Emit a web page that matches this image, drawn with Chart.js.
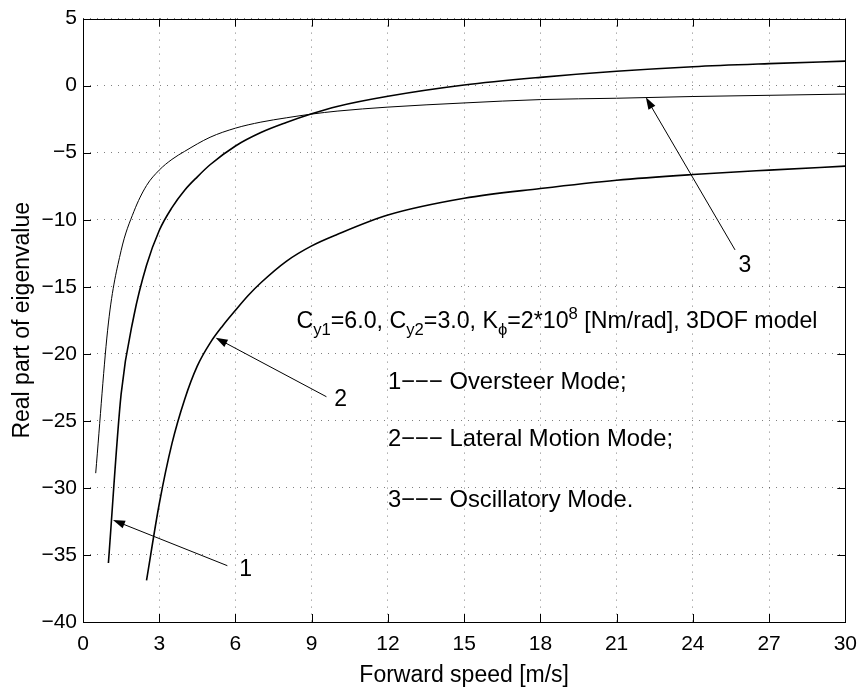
<!DOCTYPE html>
<html>
<head>
<meta charset="utf-8">
<script src="https://cdn.jsdelivr.net/npm/chart.js@4.4.1/dist/chart.umd.min.js"></script>
<style>
  html, body { margin: 0; padding: 0; background: #fff; }
  #wrap { width: 867px; height: 694px; }
</style>
</head>
<body>
<div id="wrap"><canvas id="eigChart" width="867" height="694"></canvas></div>
<script>
// values
const speedMode1 = [1.0, 1.5, 2.0, 2.5, 3.0, 3.5, 4.0, 4.5, 5.0, 6.0, 7.0, 8.0, 9.0, 10, 12, 15, 18, 21, 24, 27, 30];
const realMode1  = [-35.6, -23.0, -17.2, -13.4, -10.8, -9.1, -7.8, -6.8, -5.9, -4.5, -3.5, -2.75, -2.1, -1.55, -0.79, 0.05, 0.62, 1.07, 1.41, 1.64, 1.83];

const speedMode2 = [2.5, 3.0, 3.5, 4.0, 4.5, 5.0, 5.5, 6.0, 6.5, 7.0, 8.0, 9.0, 10, 12, 15, 18, 21, 24, 27, 30];
const realMode2  = [-36.9, -31.2, -26.7, -23.4, -20.9, -19.2, -17.9, -16.75, -15.65, -14.7, -13.1, -11.95, -11.1, -9.65, -8.4, -7.67, -7.05, -6.63, -6.3, -6.0];

const speedMode3 = [0.5, 1.0, 1.5, 2.0, 2.5, 3.0, 3.5, 4.0, 5.0, 6.0, 7.0, 8.0, 9.0, 10, 12, 15, 18, 21, 24, 27, 30];
const realMode3  = [-28.9, -17.7, -12.3, -9.4, -7.45, -6.3, -5.5, -4.9, -3.85, -3.17, -2.72, -2.4, -2.12, -1.9, -1.6, -1.29, -1.04, -0.94, -0.81, -0.72, -0.63];

const xTicks = [0, 3, 6, 9, 12, 15, 18, 21, 24, 27, 30];
const yTicks = [5, 0, -5, -10, -15, -20, -25, -30, -35, -40];

// arrow labels: [label, labelX, labelY, tailX, tailY, tipX, tipY]
const arrowNotes = [
  ['1', 6.4, -36.1, 5.68, -35.8, 1.18, -32.4],
  ['2', 10.14, -23.4, 9.58, -23.2, 5.22, -18.8],
  ['3', 26.05, -13.4, 25.66, -12.25, 22.15, -0.87]
];

const legendLines = ['1\u2212\u2212\u2212 Oversteer Mode;', '2\u2212\u2212\u2212 Lateral Motion Mode;', '3\u2212\u2212\u2212 Oscillatory Mode.'];
const legendY = [-22.6, -26.85, -31.4];

const FONT = '"Liberation Sans", Arial, Helvetica, sans-serif';

function toPoints(xs, ys) {
  return xs.map((x, i) => ({ x: x, y: ys[i] }));
}

function fmtTick(v) {
  return v < 0 ? '\u2212' + Math.abs(v) : String(v);
}

// rich text: parts of [text, mode] where mode is '', 'sub' or 'sup'
function drawRich(ctx, parts, x, y, size) {
  let cx = x;
  parts.forEach(([t, mode]) => {
    let s = size, dy = 0;
    if (mode === 'sub') { s = size * 0.72; dy = size * 0.3; }
    if (mode === 'sup') { s = size * 0.72; dy = -size * 0.42; }
    ctx.font = s + 'px ' + FONT;
    ctx.fillText(t, cx, y + dy);
    cx += ctx.measureText(t).width;
  });
}

const framePlugin = {
  id: 'frame',
  afterDatasetsDraw(chart) {
    const { ctx, chartArea: a, scales } = chart;
    const xs = scales.x, ys = scales.y;
    ctx.save();
    ctx.strokeStyle = '#000';
    ctx.lineWidth = 1;
    // inward ticks on all four sides
    ctx.beginPath();
    xTicks.forEach(v => {
      const px = Math.round(xs.getPixelForValue(v)) + 0.5;
      ctx.moveTo(px, a.bottom); ctx.lineTo(px, a.bottom - 8);
      ctx.moveTo(px, a.top); ctx.lineTo(px, a.top + 8);
    });
    yTicks.forEach(v => {
      const py = Math.round(ys.getPixelForValue(v)) + 0.5;
      ctx.moveTo(a.left, py); ctx.lineTo(a.left + 8, py);
      ctx.moveTo(a.right, py); ctx.lineTo(a.right - 8, py);
    });
    ctx.stroke();
    ctx.strokeRect(Math.round(a.left) + 0.5, Math.round(a.top) + 0.5, Math.round(a.right - a.left), Math.round(a.bottom - a.top));

    // arrows with numbers
    ctx.fillStyle = '#000';
    ctx.textBaseline = 'middle';
    ctx.textAlign = 'center';
    arrowNotes.forEach(([lab, lx, ly, tx, ty, hx, hy]) => {
      const x0 = xs.getPixelForValue(tx), y0 = ys.getPixelForValue(ty);
      const x1 = xs.getPixelForValue(hx), y1 = ys.getPixelForValue(hy);
      const ang = Math.atan2(y1 - y0, x1 - x0);
      ctx.beginPath();
      ctx.moveTo(x0, y0); ctx.lineTo(x1 - 8 * Math.cos(ang), y1 - 8 * Math.sin(ang));
      ctx.stroke();
      ctx.beginPath();
      ctx.moveTo(x1, y1);
      ctx.lineTo(x1 - 12 * Math.cos(ang) + 4 * Math.sin(ang), y1 - 12 * Math.sin(ang) - 4 * Math.cos(ang));
      ctx.lineTo(x1 - 12 * Math.cos(ang) - 4 * Math.sin(ang), y1 - 12 * Math.sin(ang) + 4 * Math.cos(ang));
      ctx.closePath();
      ctx.fill();
      ctx.font = '23px ' + FONT;
      ctx.fillText(lab, xs.getPixelForValue(lx), ys.getPixelForValue(ly));
    });

    // parameter line and mode list
    ctx.textAlign = 'left';
    ctx.textBaseline = 'alphabetic';
    drawRich(ctx, [
      ['C', ''], ['y1', 'sub'], ['=6.0, C', ''], ['y2', 'sub'], ['=3.0, K', ''], ['\u03d5', 'sub'],
      ['=2*10', ''], ['8', 'sup'], [' [Nm/rad], 3DOF model', '']
    ], xs.getPixelForValue(8.4), ys.getPixelForValue(-18.1), 23.2);
    ctx.font = '23.8px ' + FONT;
    legendLines.forEach((t, i) => {
      ctx.fillText(t, xs.getPixelForValue(12.0), ys.getPixelForValue(legendY[i]));
    });
    ctx.restore();
  }
};

new Chart(document.getElementById('eigChart'), {
  type: 'line',
  data: {
    datasets: [
      { label: 'Oversteer Mode', data: toPoints(speedMode1, realMode1), borderColor: '#000', borderWidth: 1.6 },
      { label: 'Lateral Motion Mode', data: toPoints(speedMode2, realMode2), borderColor: '#000', borderWidth: 1.6 },
      { label: 'Oscillatory Mode', data: toPoints(speedMode3, realMode3), borderColor: '#000', borderWidth: 1.0 }
    ]
  },
  options: {
    responsive: false,
    animation: false,
    events: [],
    layout: { padding: { top: 16, right: 16, left: 0, bottom: 0 } },
    elements: {
      point: { radius: 0 },
      line: { tension: 0, cubicInterpolationMode: 'monotone', fill: false }
    },
    plugins: { legend: { display: false }, tooltip: { enabled: false } },
    scales: {
      x: {
        type: 'linear', min: 0, max: 30,
        afterBuildTicks: s => { s.ticks = xTicks.map(v => ({ value: v })); },
        afterFit: s => { s.height = 72; },
        grid: { color: 'rgba(0,0,0,0.5)', lineWidth: 1, drawTicks: false },
        border: { display: false, dash: [1, 6] },
        ticks: { color: '#000', padding: 10, font: { family: FONT, size: 21 }, callback: v => fmtTick(v) },
        title: { display: true, text: 'Forward speed [m/s]', color: '#000', font: { family: FONT, size: 23 }, padding: { top: 0, bottom: 5 } }
      },
      y: {
        type: 'linear', min: -40, max: 5,
        afterBuildTicks: s => { s.ticks = yTicks.map(v => ({ value: v })); },
        afterFit: s => { s.width = 83; },
        grid: { color: 'rgba(0,0,0,0.5)', lineWidth: 1, drawTicks: false },
        border: { display: false, dash: [1, 6] },
        ticks: { color: '#000', padding: 6, font: { family: FONT, size: 21 }, callback: v => fmtTick(v) },
        title: { display: true, text: 'Real part of eigenvalue', color: '#000', font: { family: FONT, size: 23 }, padding: { top: 9, bottom: 0 } }
      }
    }
  },
  plugins: [framePlugin]
});
</script>
</body>
</html>
